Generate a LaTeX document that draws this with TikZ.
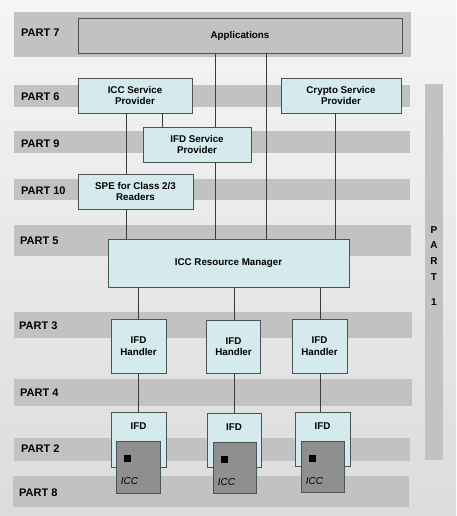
\documentclass[tikz,border=0pt]{standalone}
\usepackage{fontspec}
\setmainfont{Liberation Sans}
\definecolor{bgtop}{RGB}{245,245,245}
\definecolor{bgbot}{RGB}{220,220,220}
\definecolor{bandc}{RGB}{194,194,194}
\definecolor{boxc}{RGB}{212,234,236}
\definecolor{edgec}{RGB}{72,84,86}
\definecolor{linec}{RGB}{60,60,60}
\definecolor{cardc}{RGB}{143,143,143}
\begin{document}
\begin{tikzpicture}[x=1pt,y=-1pt,
  band/.style={fill=bandc,draw=none},
  box/.style={draw=edgec,fill=boxc,line width=0.8pt,inner sep=0pt,align=center,
    font=\bfseries\fontsize{9.8}{11.5}\selectfont},
  graybox/.style={box,fill=bandc},
  boxtext/.style={inner sep=0pt,font=\bfseries\fontsize{9.8}{11.5}\selectfont},
  partlbl/.style={anchor=west,inner sep=0pt,font=\bfseries\fontsize{11}{12}\selectfont},
  conn/.style={draw=linec,line width=0.8pt},
  card/.style={draw=edgec,fill=cardc,line width=0.8pt,inner sep=0pt},
  chip/.style={fill=black,draw=none,minimum size=7pt,inner sep=0pt},
  cardtext/.style={anchor=west,inner sep=0pt,font=\itshape\fontsize{10}{12}\selectfont},
]
% background
\useasboundingbox (0,0) rectangle (456,516);
\shade[top color=bgtop,bottom color=bgbot] (0,0) rectangle (456,516);

% horizontal bands
\fill[band] (14,12) rectangle (411,57);
\fill[band] (14,85) rectangle (410,107);
\fill[band] (14,131) rectangle (410,153);
\fill[band] (14,179) rectangle (410,200);
\fill[band] (14,225) rectangle (411,256);
\fill[band] (14,312) rectangle (412,338);
\fill[band] (14,379) rectangle (412,406);
\fill[band] (14,438) rectangle (410,461);
\fill[band] (13,476) rectangle (409,507);
% vertical band PART 1
\fill[band] (425,84) rectangle (443,460);

% part labels
\node[partlbl] (p7) at (21,33) {PART 7};
\node[partlbl] (p6) at (21,97) {PART 6};
\node[partlbl] (p9) at (21,144) {PART 9};
\node[partlbl] (p10) at (21,190.5) {PART 10};
\node[partlbl] (p5) at (20,241) {PART 5};
\node[partlbl] (p3) at (19,326) {PART 3};
\node[partlbl] (p4) at (20,393) {PART 4};
\node[partlbl] (p2) at (21,449) {PART 2};
\node[partlbl] (p8) at (19,493) {PART 8};
\node[inner sep=0pt,align=center,font=\bfseries\fontsize{10}{15.7}\selectfont,anchor=north] (p1) at (434,226) {P\\A\\R\\T\\[10pt]1};

% boxes
\node[graybox,minimum width=324,minimum height=35] (app) at (240,35.5) {Applications};
\node[box,minimum width=114,minimum height=35] (iccsp) at (135,95.5) {ICC Service\\Provider};
\node[box,minimum width=120,minimum height=35] (crypto) at (341,95.5) {Crypto Service\\Provider};
\node[box,minimum width=108,minimum height=35] (ifdsp) at (197,144.5) {IFD Service\\Provider};
\node[box,minimum width=115,minimum height=35] (spe) at (135.5,191.5) {SPE for Class 2/3\\Readers};
\node[box,minimum width=241,minimum height=48] (rm) at (228.5,263) {ICC Resource Manager};

\node[box,minimum width=55,minimum height=54] (h1) at (138.5,346) {IFD\\Handler};
\node[box,minimum width=54,minimum height=53] (h2) at (233.5,346.5) {IFD\\Handler};
\node[box,minimum width=55,minimum height=54] (h3) at (319.5,346) {IFD\\Handler};

\node[box,minimum width=55,minimum height=55] (ifd1) at (138.5,439.5) {};
\node[box,minimum width=54,minimum height=54] (ifd2) at (234,440) {};
\node[box,minimum width=55,minimum height=54] (ifd3) at (322.5,439) {};
\node[boxtext] (ifd1t) at ([yshift=-15pt]ifd1.north) {IFD};
\node[boxtext] (ifd2t) at ([yshift=-15pt]ifd2.north) {IFD};
\node[boxtext] (ifd3t) at ([yshift=-15pt]ifd3.north) {IFD};

% connectors
\draw[conn] (app.south -| 215,0) -- (ifdsp.north -| 215,0);
\draw[conn] (ifdsp.south -| 215,0) -- (rm.north -| 215,0);
\draw[conn] (app.south -| 266,0) -- (rm.north -| 266,0);
\draw[conn] (iccsp.south -| 162,0) -- (ifdsp.north -| 162,0);
\draw[conn] (iccsp.south -| 126,0) -- (spe.north -| 126,0);
\draw[conn] (spe.south -| 126,0) -- (rm.north -| 126,0);
\draw[conn] (crypto.south -| 335,0) -- (rm.north -| 335,0);
\draw[conn] (rm.south -| 138,0) -- (h1.north -| 138,0);
\draw[conn] (rm.south -| 234,0) -- (h2.north -| 234,0);
\draw[conn] (rm.south -| 320,0) -- (h3.north -| 320,0);
\draw[conn] (h1.south -| 138,0) -- (ifd1.north -| 138,0);
\draw[conn] (h2.south -| 234,0) -- (ifd2.north -| 234,0);
\draw[conn] (h3.south -| 320,0) -- (ifd3.north -| 320,0);

% ICC cards
\node[card,minimum width=44,minimum height=52] (card1) at (138,467) {};
\node[card,minimum width=43,minimum height=51] (card2) at (234.5,467.5) {};
\node[card,minimum width=43,minimum height=51] (card3) at (322.5,466.5) {};
\node[chip] (chip1) at ([xshift=12pt,yshift=-17.5pt]card1.north west) {};
\node[chip] (chip2) at ([xshift=11.5pt,yshift=-17.5pt]card2.north west) {};
\node[chip] (chip3) at ([xshift=11.5pt,yshift=-17.5pt]card3.north west) {};
\node[cardtext] (icc1) at ([xshift=5pt,yshift=-40pt]card1.north west) {ICC};
\node[cardtext] (icc2) at ([xshift=5pt,yshift=-40pt]card2.north west) {ICC};
\node[cardtext] (icc3) at ([xshift=5pt,yshift=-40pt]card3.north west) {ICC};
\end{tikzpicture}
\end{document}
